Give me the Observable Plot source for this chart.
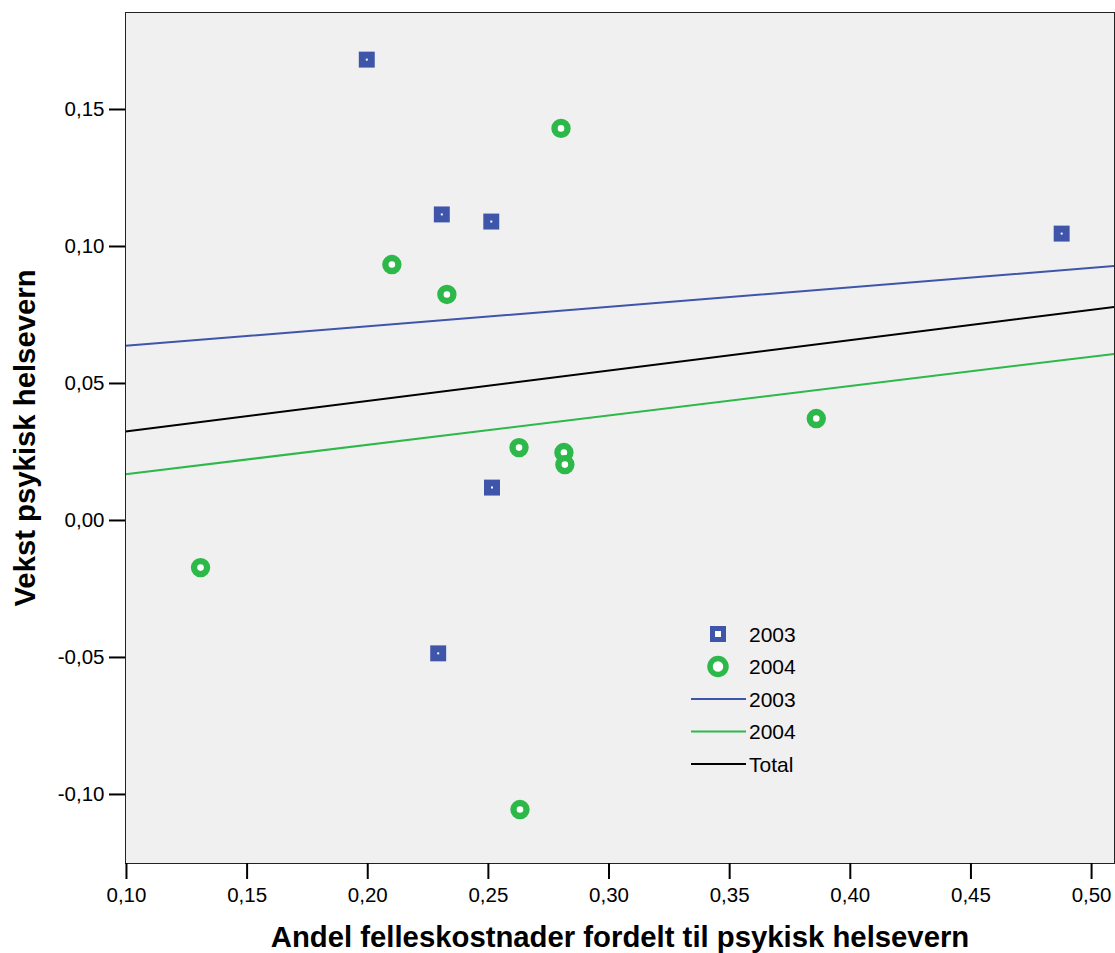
<!DOCTYPE html>
<html><head><meta charset="utf-8">
<script src="https://cdn.jsdelivr.net/npm/d3@7"></script>
<script src="https://cdn.jsdelivr.net/npm/@observablehq/plot@0.6"></script>
<style>
html,body{margin:0;padding:0;background:#fff;}
#wrap{position:relative;width:1115px;height:953px;font-family:"Liberation Sans",Arial,sans-serif;}
#legend{position:absolute;left:0;top:0;pointer-events:none;}
</style></head><body><div id="wrap"></div>
<script>
// Data
const x2003 = [0.1996, 0.2307, 0.2512, 0.4876, 0.2515, 0.2292];
const y2003 = [0.1682, 0.1117, 0.1091, 0.1047, 0.0120, -0.0485];
const x2004 = [0.2801, 0.2100, 0.2328, 0.3859, 0.2627, 0.2813, 0.2817, 0.1307, 0.2631];
const y2004 = [0.1431, 0.0934, 0.0825, 0.0372, 0.0266, 0.0248, 0.0204, -0.0172, -0.1055];
const xTicks = [0.10, 0.15, 0.20, 0.25, 0.30, 0.35, 0.40, 0.45, 0.50];
const yTicks = [-0.10, -0.05, 0.00, 0.05, 0.10, 0.15];
const seriesNames = ["2003", "2004", "Total"];
const xTitle = "Andel felleskostnader fordelt til psykisk helsevern";
const yTitle = "Vekst psykisk helsevern";

const C03 = "#3F55A9", C04 = "#2DB84A", CT = "#000000";
const xDomain = [0.0996, 0.5095];
const yDomain = [-0.1252, 0.1854];
const fmt = d => d.toFixed(2).replace(".", ",");

const pts03 = x2003.map((x, i) => ({x, y: y2003[i]}));
const pts04 = x2004.map((x, i) => ({x, y: y2004[i]}));

function fit(xs, ys) {
  const mx = d3.mean(xs), my = d3.mean(ys);
  const b = d3.sum(xs, (x, i) => (x - mx) * (ys[i] - my)) / d3.sum(xs, x => (x - mx) ** 2);
  const a = my - b * mx;
  return xDomain.map(x => ({x, y: a + b * x}));
}
const line03 = fit(x2003, y2003);
const line04 = fit(x2004, y2004);
const lineT = fit(x2003.concat(x2004), y2003.concat(y2004));

const font = '"Liberation Sans", Arial, sans-serif';
const chart = Plot.plot({
  width: 1115, height: 953,
  marginLeft: 125, marginRight: 1, marginTop: 12, marginBottom: 90,
  x: {domain: xDomain},
  y: {domain: yDomain},
  style: {fontFamily: font, background: "white", color: "black", fontSize: "20.5px"},
  marks: [
    Plot.frame({fill: "#f0f0f0"}),
    Plot.line(line03, {x: "x", y: "y", stroke: C03, strokeWidth: 2, clip: true}),
    Plot.line(line04, {x: "x", y: "y", stroke: C04, strokeWidth: 2, clip: true}),
    Plot.line(lineT, {x: "x", y: "y", stroke: CT, strokeWidth: 2, clip: true}),
    Plot.dot(pts03, {x: "x", y: "y", symbol: "square", r: 9, fill: C03}),
    Plot.dot(pts03, {x: "x", y: "y", symbol: "square", r: 1.1, fill: "white"}),
    Plot.dot(pts04, {x: "x", y: "y", r: 6.5, stroke: C04, strokeWidth: 6.4, fill: "white"}),
    Plot.frame({stroke: "#222"}),
    Plot.axisX({ticks: xTicks, tickFormat: fmt, tickSize: 16, tickPadding: 8, fontSize: 20.5, strokeWidth: 2, label: null}),
    Plot.axisY({ticks: yTicks, tickFormat: fmt, tickSize: 16, tickPadding: 5, fontSize: 20.5, strokeWidth: 2, label: null}),
    Plot.text([xTitle], {text: d => d, frameAnchor: "bottom", textAnchor: "middle", lineAnchor: "middle", dy: 74, fontSize: 29.3, fontWeight: "bold"}),
    Plot.text([yTitle], {text: d => d, frameAnchor: "left", textAnchor: "middle", lineAnchor: "middle", dx: -100, rotate: -90, fontSize: 29.3, fontWeight: "bold"})
  ]
});
const wrap = document.getElementById("wrap");
wrap.appendChild(chart);

// Legend overlay inside the plot area
const lg = d3.select(wrap).append("svg").attr("id", "legend")
  .attr("width", 1115).attr("height", 953)
  .style("font-family", font).style("font-size", "21px");
const items = [
  {kind: "square", color: C03, label: seriesNames[0]},
  {kind: "circle", color: C04, label: seriesNames[1]},
  {kind: "line", color: C03, label: seriesNames[0]},
  {kind: "line", color: C04, label: seriesNames[1]},
  {kind: "line", color: CT, label: seriesNames[2]}
];
const lx = 718, ly0 = 634, step = 32.5;
items.forEach((it, i) => {
  const cy = ly0 + i * step;
  const g = lg.append("g");
  if (it.kind === "square") {
    g.append("rect").attr("x", lx - 8).attr("y", cy - 8).attr("width", 16).attr("height", 16).attr("fill", it.color);
    g.append("rect").attr("x", lx - 3).attr("y", cy - 3).attr("width", 6).attr("height", 6).attr("fill", "white");
  } else if (it.kind === "circle") {
    g.append("circle").attr("cx", lx).attr("cy", cy).attr("r", 8).attr("fill", "white").attr("stroke", it.color).attr("stroke-width", 5.5);
  } else {
    g.append("line").attr("x1", lx - 27).attr("x2", lx + 28).attr("y1", cy).attr("y2", cy).attr("stroke", it.color).attr("stroke-width", 2);
  }
  g.append("text").attr("x", 749).attr("y", cy).attr("dy", "0.36em").text(it.label);
});
</script></body></html>
